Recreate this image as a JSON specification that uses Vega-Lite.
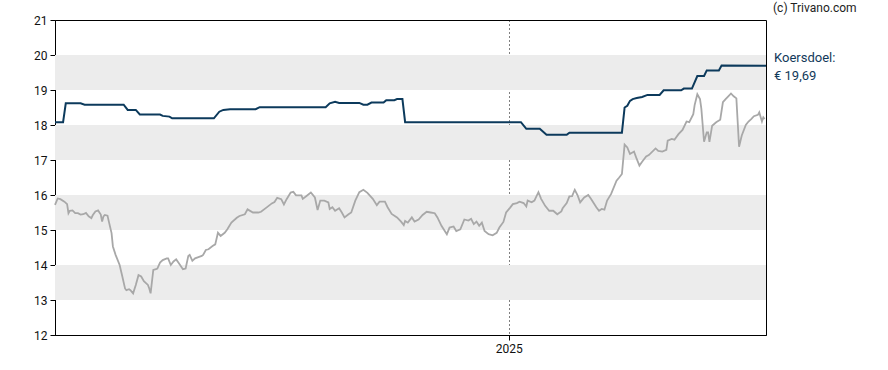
{
  "$schema": "https://vega.github.io/schema/vega-lite/v6.json",
  "width": 711,
  "height": 315,
  "autosize": {"type": "none"},
  "padding": {"left": 55, "top": 20, "right": 122, "bottom": 35},
  "background": "white",
  "config": {
    "font": "Roboto",
    "view": {"stroke": "black", "strokeWidth": 1}
  },
  "datasets": {
    "bands": [
      {"lo": 13, "hi": 14},
      {"lo": 15, "hi": 16},
      {"lo": 17, "hi": 18},
      {"lo": 19, "hi": 20}
    ],
    "koers": [
      {"date": "2024-01-30", "v": 15.72},
      {"date": "2024-02-01", "v": 15.90},
      {"date": "2024-02-03", "v": 15.88},
      {"date": "2024-02-06", "v": 15.81},
      {"date": "2024-02-08", "v": 15.74},
      {"date": "2024-02-09", "v": 15.48},
      {"date": "2024-02-10", "v": 15.55},
      {"date": "2024-02-12", "v": 15.56},
      {"date": "2024-02-14", "v": 15.48},
      {"date": "2024-02-16", "v": 15.48},
      {"date": "2024-02-18", "v": 15.44},
      {"date": "2024-02-20", "v": 15.45},
      {"date": "2024-02-22", "v": 15.49},
      {"date": "2024-02-24", "v": 15.39},
      {"date": "2024-02-26", "v": 15.34},
      {"date": "2024-02-27", "v": 15.42},
      {"date": "2024-02-29", "v": 15.53},
      {"date": "2024-03-02", "v": 15.56},
      {"date": "2024-03-04", "v": 15.44},
      {"date": "2024-03-05", "v": 15.24},
      {"date": "2024-03-06", "v": 15.39},
      {"date": "2024-03-07", "v": 15.43},
      {"date": "2024-03-09", "v": 15.41},
      {"date": "2024-03-10", "v": 15.24},
      {"date": "2024-03-12", "v": 14.91},
      {"date": "2024-03-13", "v": 14.53},
      {"date": "2024-03-15", "v": 14.29},
      {"date": "2024-03-18", "v": 14.00},
      {"date": "2024-03-20", "v": 13.67},
      {"date": "2024-03-22", "v": 13.33},
      {"date": "2024-03-23", "v": 13.28},
      {"date": "2024-03-25", "v": 13.31},
      {"date": "2024-03-26", "v": 13.28},
      {"date": "2024-03-28", "v": 13.19},
      {"date": "2024-03-30", "v": 13.43},
      {"date": "2024-04-01", "v": 13.71},
      {"date": "2024-04-03", "v": 13.67},
      {"date": "2024-04-05", "v": 13.54},
      {"date": "2024-04-08", "v": 13.43},
      {"date": "2024-04-09", "v": 13.33},
      {"date": "2024-04-10", "v": 13.19},
      {"date": "2024-04-12", "v": 13.86},
      {"date": "2024-04-14", "v": 13.88},
      {"date": "2024-04-15", "v": 13.90},
      {"date": "2024-04-17", "v": 14.07},
      {"date": "2024-04-19", "v": 14.14},
      {"date": "2024-04-22", "v": 14.19},
      {"date": "2024-04-23", "v": 14.19},
      {"date": "2024-04-25", "v": 14.00},
      {"date": "2024-04-27", "v": 14.10},
      {"date": "2024-04-29", "v": 14.16},
      {"date": "2024-05-01", "v": 14.05},
      {"date": "2024-05-04", "v": 13.88},
      {"date": "2024-05-06", "v": 13.90},
      {"date": "2024-05-08", "v": 14.26},
      {"date": "2024-05-09", "v": 14.29},
      {"date": "2024-05-11", "v": 14.12},
      {"date": "2024-05-13", "v": 14.19},
      {"date": "2024-05-15", "v": 14.22},
      {"date": "2024-05-18", "v": 14.26},
      {"date": "2024-05-19", "v": 14.29},
      {"date": "2024-05-21", "v": 14.43},
      {"date": "2024-05-23", "v": 14.45},
      {"date": "2024-05-26", "v": 14.54},
      {"date": "2024-05-28", "v": 14.59},
      {"date": "2024-05-30", "v": 14.92},
      {"date": "2024-06-01", "v": 14.83},
      {"date": "2024-06-04", "v": 14.92},
      {"date": "2024-06-06", "v": 15.02},
      {"date": "2024-06-09", "v": 15.21},
      {"date": "2024-06-13", "v": 15.35},
      {"date": "2024-06-15", "v": 15.40},
      {"date": "2024-06-19", "v": 15.45},
      {"date": "2024-06-21", "v": 15.59},
      {"date": "2024-06-25", "v": 15.50},
      {"date": "2024-06-29", "v": 15.50},
      {"date": "2024-07-01", "v": 15.52},
      {"date": "2024-07-05", "v": 15.64},
      {"date": "2024-07-09", "v": 15.76},
      {"date": "2024-07-11", "v": 15.80},
      {"date": "2024-07-13", "v": 15.92},
      {"date": "2024-07-16", "v": 15.88},
      {"date": "2024-07-18", "v": 15.73},
      {"date": "2024-07-20", "v": 15.88},
      {"date": "2024-07-23", "v": 16.07},
      {"date": "2024-07-25", "v": 16.09},
      {"date": "2024-07-27", "v": 15.99},
      {"date": "2024-07-31", "v": 15.99},
      {"date": "2024-08-01", "v": 15.89},
      {"date": "2024-08-04", "v": 15.98},
      {"date": "2024-08-07", "v": 16.07},
      {"date": "2024-08-10", "v": 15.93},
      {"date": "2024-08-12", "v": 15.57},
      {"date": "2024-08-14", "v": 15.84},
      {"date": "2024-08-17", "v": 15.84},
      {"date": "2024-08-20", "v": 15.79},
      {"date": "2024-08-21", "v": 15.60},
      {"date": "2024-08-23", "v": 15.65},
      {"date": "2024-08-25", "v": 15.55},
      {"date": "2024-08-28", "v": 15.62},
      {"date": "2024-08-30", "v": 15.50},
      {"date": "2024-09-01", "v": 15.36},
      {"date": "2024-09-04", "v": 15.45},
      {"date": "2024-09-06", "v": 15.50},
      {"date": "2024-09-09", "v": 15.84},
      {"date": "2024-09-12", "v": 16.08},
      {"date": "2024-09-15", "v": 16.15},
      {"date": "2024-09-18", "v": 16.06},
      {"date": "2024-09-22", "v": 15.89},
      {"date": "2024-09-25", "v": 15.71},
      {"date": "2024-09-27", "v": 15.81},
      {"date": "2024-10-01", "v": 15.81},
      {"date": "2024-10-03", "v": 15.65},
      {"date": "2024-10-06", "v": 15.46},
      {"date": "2024-10-10", "v": 15.36},
      {"date": "2024-10-13", "v": 15.24},
      {"date": "2024-10-15", "v": 15.14},
      {"date": "2024-10-16", "v": 15.26},
      {"date": "2024-10-18", "v": 15.21},
      {"date": "2024-10-21", "v": 15.36},
      {"date": "2024-10-23", "v": 15.24},
      {"date": "2024-10-26", "v": 15.30},
      {"date": "2024-10-29", "v": 15.43},
      {"date": "2024-11-01", "v": 15.52},
      {"date": "2024-11-04", "v": 15.50},
      {"date": "2024-11-07", "v": 15.48},
      {"date": "2024-11-09", "v": 15.36},
      {"date": "2024-11-12", "v": 15.12},
      {"date": "2024-11-16", "v": 14.88},
      {"date": "2024-11-18", "v": 15.07},
      {"date": "2024-11-21", "v": 15.10},
      {"date": "2024-11-23", "v": 14.97},
      {"date": "2024-11-26", "v": 15.02},
      {"date": "2024-11-29", "v": 15.30},
      {"date": "2024-12-02", "v": 15.27},
      {"date": "2024-12-04", "v": 15.32},
      {"date": "2024-12-06", "v": 15.17},
      {"date": "2024-12-08", "v": 15.24},
      {"date": "2024-12-10", "v": 15.12},
      {"date": "2024-12-12", "v": 15.21},
      {"date": "2024-12-14", "v": 14.97},
      {"date": "2024-12-17", "v": 14.88},
      {"date": "2024-12-20", "v": 14.85},
      {"date": "2024-12-23", "v": 14.92},
      {"date": "2024-12-25", "v": 15.07},
      {"date": "2024-12-28", "v": 15.23},
      {"date": "2024-12-30", "v": 15.50},
      {"date": "2025-01-02", "v": 15.64},
      {"date": "2025-01-04", "v": 15.74},
      {"date": "2025-01-07", "v": 15.77},
      {"date": "2025-01-09", "v": 15.81},
      {"date": "2025-01-12", "v": 15.77},
      {"date": "2025-01-14", "v": 15.67},
      {"date": "2025-01-15", "v": 15.84},
      {"date": "2025-01-18", "v": 15.79},
      {"date": "2025-01-20", "v": 15.84},
      {"date": "2025-01-23", "v": 16.08},
      {"date": "2025-01-25", "v": 15.89},
      {"date": "2025-01-28", "v": 15.69},
      {"date": "2025-01-31", "v": 15.55},
      {"date": "2025-02-03", "v": 15.55},
      {"date": "2025-02-06", "v": 15.45},
      {"date": "2025-02-09", "v": 15.53},
      {"date": "2025-02-10", "v": 15.62},
      {"date": "2025-02-13", "v": 15.77},
      {"date": "2025-02-15", "v": 15.96},
      {"date": "2025-02-17", "v": 15.97},
      {"date": "2025-02-19", "v": 16.15},
      {"date": "2025-02-21", "v": 16.00},
      {"date": "2025-02-23", "v": 15.79},
      {"date": "2025-02-26", "v": 15.93},
      {"date": "2025-03-01", "v": 16.00},
      {"date": "2025-03-03", "v": 15.89},
      {"date": "2025-03-07", "v": 15.65},
      {"date": "2025-03-09", "v": 15.55},
      {"date": "2025-03-11", "v": 15.60},
      {"date": "2025-03-13", "v": 15.58},
      {"date": "2025-03-15", "v": 15.84},
      {"date": "2025-03-18", "v": 16.03},
      {"date": "2025-03-22", "v": 16.41},
      {"date": "2025-03-24", "v": 16.50},
      {"date": "2025-03-26", "v": 16.60},
      {"date": "2025-03-28", "v": 17.44},
      {"date": "2025-03-30", "v": 17.36},
      {"date": "2025-04-01", "v": 17.17},
      {"date": "2025-04-04", "v": 17.24},
      {"date": "2025-04-06", "v": 17.03},
      {"date": "2025-04-08", "v": 16.84},
      {"date": "2025-04-10", "v": 16.95},
      {"date": "2025-04-13", "v": 17.10},
      {"date": "2025-04-15", "v": 17.14},
      {"date": "2025-04-20", "v": 17.33},
      {"date": "2025-04-22", "v": 17.26},
      {"date": "2025-04-25", "v": 17.24},
      {"date": "2025-04-28", "v": 17.29},
      {"date": "2025-04-29", "v": 17.55},
      {"date": "2025-05-02", "v": 17.60},
      {"date": "2025-05-04", "v": 17.58},
      {"date": "2025-05-07", "v": 17.74},
      {"date": "2025-05-10", "v": 17.86},
      {"date": "2025-05-13", "v": 18.10},
      {"date": "2025-05-15", "v": 18.08},
      {"date": "2025-05-18", "v": 18.31},
      {"date": "2025-05-19", "v": 18.57},
      {"date": "2025-05-21", "v": 18.88},
      {"date": "2025-05-23", "v": 18.74},
      {"date": "2025-05-24", "v": 18.46},
      {"date": "2025-05-26", "v": 17.52},
      {"date": "2025-05-28", "v": 17.79},
      {"date": "2025-05-29", "v": 17.79},
      {"date": "2025-05-30", "v": 17.52},
      {"date": "2025-06-01", "v": 17.98},
      {"date": "2025-06-04", "v": 18.08},
      {"date": "2025-06-07", "v": 18.15},
      {"date": "2025-06-09", "v": 18.65},
      {"date": "2025-06-11", "v": 18.74},
      {"date": "2025-06-13", "v": 18.82},
      {"date": "2025-06-15", "v": 18.90},
      {"date": "2025-06-17", "v": 18.82},
      {"date": "2025-06-19", "v": 18.76},
      {"date": "2025-06-21", "v": 17.38},
      {"date": "2025-06-23", "v": 17.70},
      {"date": "2025-06-26", "v": 18.00},
      {"date": "2025-06-28", "v": 18.10},
      {"date": "2025-06-30", "v": 18.17},
      {"date": "2025-07-02", "v": 18.25},
      {"date": "2025-07-05", "v": 18.29},
      {"date": "2025-07-06", "v": 18.36},
      {"date": "2025-07-08", "v": 18.10},
      {"date": "2025-07-09", "v": 18.22},
      {"date": "2025-07-10", "v": 18.17}
    ],
    "koersdoel": [
      {"date": "2024-01-30", "v": 18.08},
      {"date": "2024-02-05", "v": 18.08},
      {"date": "2024-02-07", "v": 18.62},
      {"date": "2024-02-18", "v": 18.62},
      {"date": "2024-02-21", "v": 18.58},
      {"date": "2024-03-21", "v": 18.58},
      {"date": "2024-03-24", "v": 18.43},
      {"date": "2024-03-30", "v": 18.43},
      {"date": "2024-04-02", "v": 18.30},
      {"date": "2024-04-17", "v": 18.30},
      {"date": "2024-04-19", "v": 18.26},
      {"date": "2024-04-24", "v": 18.24},
      {"date": "2024-04-26", "v": 18.19},
      {"date": "2024-05-27", "v": 18.19},
      {"date": "2024-05-31", "v": 18.38},
      {"date": "2024-06-03", "v": 18.43},
      {"date": "2024-06-08", "v": 18.45},
      {"date": "2024-06-27", "v": 18.45},
      {"date": "2024-06-30", "v": 18.51},
      {"date": "2024-08-18", "v": 18.51},
      {"date": "2024-08-21", "v": 18.62},
      {"date": "2024-08-25", "v": 18.66},
      {"date": "2024-08-28", "v": 18.63},
      {"date": "2024-09-12", "v": 18.63},
      {"date": "2024-09-15", "v": 18.58},
      {"date": "2024-09-18", "v": 18.58},
      {"date": "2024-09-21", "v": 18.64},
      {"date": "2024-09-30", "v": 18.64},
      {"date": "2024-10-02", "v": 18.71},
      {"date": "2024-10-08", "v": 18.71},
      {"date": "2024-10-10", "v": 18.74},
      {"date": "2024-10-14", "v": 18.74},
      {"date": "2024-10-16", "v": 18.08},
      {"date": "2025-01-10", "v": 18.08},
      {"date": "2025-01-14", "v": 17.89},
      {"date": "2025-01-24", "v": 17.89},
      {"date": "2025-01-29", "v": 17.72},
      {"date": "2025-02-13", "v": 17.72},
      {"date": "2025-02-15", "v": 17.78},
      {"date": "2025-03-26", "v": 17.78},
      {"date": "2025-03-28", "v": 18.50},
      {"date": "2025-03-30", "v": 18.55},
      {"date": "2025-04-01", "v": 18.69},
      {"date": "2025-04-03", "v": 18.74},
      {"date": "2025-04-06", "v": 18.77},
      {"date": "2025-04-10", "v": 18.80},
      {"date": "2025-04-14", "v": 18.86},
      {"date": "2025-04-23", "v": 18.86},
      {"date": "2025-04-26", "v": 18.99},
      {"date": "2025-05-09", "v": 18.99},
      {"date": "2025-05-11", "v": 19.04},
      {"date": "2025-05-17", "v": 19.04},
      {"date": "2025-05-21", "v": 19.40},
      {"date": "2025-05-26", "v": 19.40},
      {"date": "2025-05-28", "v": 19.56},
      {"date": "2025-06-06", "v": 19.56},
      {"date": "2025-06-08", "v": 19.70},
      {"date": "2025-07-11", "v": 19.69}
    ],
    "label": [
      {"date": "2025-07-11", "v": 19.69, "text": "Koersdoel:\n€ 19,69"}
    ],
    "credit": [
      {"date": "2025-07-11", "v": 21, "text": "(c) Trivano.com"}
    ]
  },
  "encoding": {
    "x": {
      "field": "date",
      "type": "temporal",
      "scale": {"type": "utc", "domain": ["2024-01-30", "2025-07-11"]},
      "axis": {
        "title": null,
        "values": [{"year": 2025, "month": 1, "date": 1, "utc": true}],
        "format": "%Y",
        "domainColor": "black",
        "tickColor": "black",
        "tickSize": 5,
        "labelFontSize": 12,
        "labelColor": "#111111",
        "labelPadding": 3,
        "labelFont": "Roboto",
        "grid": true,
        "gridColor": "black",
        "gridDash": [1, 3],
        "gridWidth": 1,
        "gridOpacity": 1
      }
    },
    "y": {
      "field": "v",
      "type": "quantitative",
      "scale": {"domain": [12, 21], "nice": false, "zero": false},
      "axis": {
        "title": null,
        "values": [12, 13, 14, 15, 16, 17, 18, 19, 20, 21],
        "grid": false,
        "domainColor": "black",
        "tickColor": "black",
        "tickSize": 5,
        "labelFontSize": 12,
        "labelColor": "#111111",
        "labelPadding": 3,
        "labelFont": "Roboto"
      }
    }
  },
  "layer": [
    {
      "data": {"name": "bands"},
      "mark": {"type": "rect", "color": "#ececec"},
      "encoding": {
        "x": null,
        "y": {"field": "lo", "type": "quantitative"},
        "y2": {"field": "hi"}
      }
    },
    {
      "data": {"name": "koers"},
      "mark": {"type": "line", "color": "#a8a8a8", "strokeWidth": 1.8},
      "encoding": {}
    },
    {
      "data": {"name": "koersdoel"},
      "mark": {"type": "line", "color": "#0c3a5c", "strokeWidth": 2},
      "encoding": {}
    },
    {
      "data": {"name": "label"},
      "mark": {
        "type": "text",
        "align": "left",
        "baseline": "alphabetic",
        "dx": 8,
        "dy": -4,
        "lineHeight": 18,
        "fontSize": 13,
        "font": "Roboto",
        "color": "#12395a",
        "lineBreak": "\n"
      },
      "encoding": {"text": {"field": "text"}}
    },
    {
      "data": {"name": "credit"},
      "mark": {
        "type": "text",
        "align": "left",
        "baseline": "alphabetic",
        "dx": 7,
        "dy": -8,
        "fontSize": 12,
        "font": "Roboto",
        "color": "#222222"
      },
      "encoding": {"text": {"field": "text"}}
    }
  ]
}
